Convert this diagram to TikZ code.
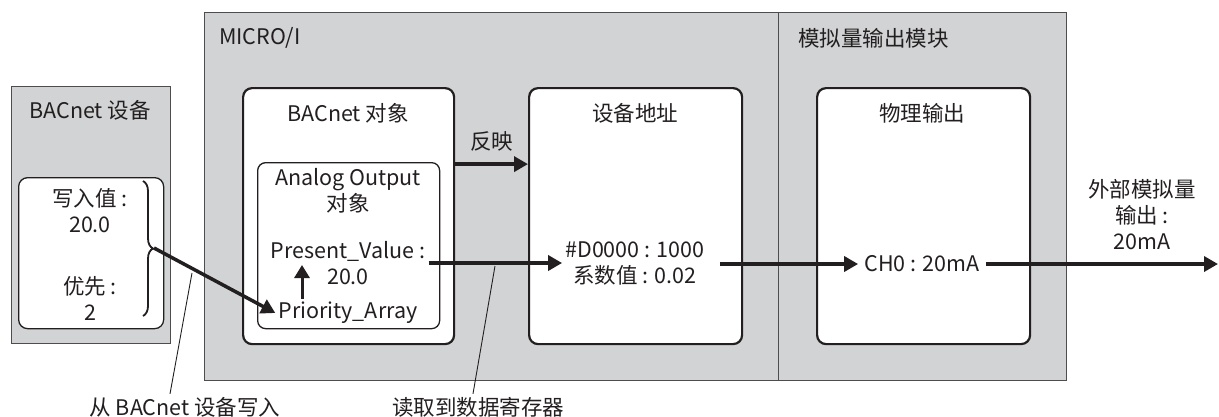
\documentclass[tikz,border=0pt]{standalone}
\usepackage{fontspec}
\setmainfont{Noto Sans CJK SC}
\usetikzlibrary{arrows.meta,decorations.pathreplacing,positioning}

\definecolor{panelgray}{HTML}{D1D3D4}
\definecolor{ink}{HTML}{231F20}

\tikzset{
  panel/.style={draw=ink!80, line width=1.2pt, fill=panelgray, anchor=north west, inner sep=0pt},
  objbox/.style={draw=ink, line width=2.2pt, fill=white, rounded corners=9pt, anchor=north west, inner sep=0pt},
  subbox/.style={draw=ink, line width=1.3pt, fill=white, rounded corners=8pt, anchor=north west, inner sep=0pt},
  lbl/.style={text=ink, font=\fontsize{21.5}{26}\selectfont, align=center, inner sep=3pt},
  flow/.style={draw=ink, line width=3.5pt, -{Triangle[length=14pt,width=15pt]}},
  lead/.style={draw=ink, line width=0.9pt},
}

\begin{document}
\begin{tikzpicture}[x=1pt,y=-1pt]
  \useasboundingbox (0,0) rectangle (1219,416);

  % panels
  \node[panel, minimum width=159pt, minimum height=257pt] (devpanel) at (11,86) {};
  \node[panel, minimum width=574pt, minimum height=368pt] (micropanel) at (204,12) {};
  \node[panel, minimum width=288pt, minimum height=368pt] (modpanel) at (778,12) {};

  \node[lbl] (devtitle) at (90,110) {BACnet 设备};
  \node[lbl, anchor=west] (microtitle) at (216,38) {MICRO/I};
  \node[lbl, anchor=west] (modtitle) at (795,38) {模拟量输出模块};

  % BACnet device
  \node[objbox, minimum width=145pt, minimum height=151pt, line width=1.3pt] (devbox) at (18,177) {};
  \node[lbl] (wval) at (90,210.5) {写入值 :\\20.0};
  \node[lbl] (wprio) at (90,298) {优先 :\\2};
  \draw[ink, line width=1.8pt, decorate, decoration={brace, amplitude=10pt}] (143,181) -- (143,316);
  \coordinate (bt) at (154,248);

  % MICRO/I
  \node[objbox, minimum width=211pt, minimum height=256pt] (bobj) at (242,87) {};
  \node[lbl] (bobjtitle) at (348,113) {BACnet 对象};
  \node[subbox, minimum width=182pt, minimum height=166pt] (aobj) at (257,162) {};
  \node[lbl] (aotitle) at (348,190.5) {Analog Output\\对象};
  \node[lbl] (pv) at (348,263) {Present\_Value :\\20.0};
  \node[lbl] (prio) at (348,313) {Priority\_Array};

  \node[objbox, minimum width=213pt, minimum height=256pt] (addrbox) at (528,87) {};
  \node[lbl] (addrtitle) at (635,113) {设备地址};
  \node[lbl] (addr) at (635,264) {\#D0000 : 1000\\系数值 : 0.02};

  % module
  \node[objbox, minimum width=213pt, minimum height=256pt] (physbox) at (816,87) {};
  \node[lbl] (phystitle) at (922,113) {物理输出};
  \node[lbl, inner sep=6pt] (ch) at (922,264) {CH0 : 20mA};

  \node[lbl] (ext) at (1142,215) {外部模拟量\\输出 :\\20mA};
  \coordinate (extout) at (1218,264);

  % flows
  \draw[flow] ([yshift=52pt]bobj.east) -- node[lbl, midway, above=8pt] (mirror) {反映}
    ([yshift=52pt]bobj.east -| addrbox.west);
  \draw[flow] (bt) -- (prio.west);
  \draw[flow, line width=3pt, -{Triangle[length=13pt,width=15pt]}]
    ([xshift=-46pt]prio.north) -- ([xshift=-46pt,yshift=-2pt]prio.north |- pv.center);
  \draw[flow] (pv.east) -- (pv.east -| addr.west);
  \draw[flow, shorten <=12pt] (addr.east) -- (addr.east -| ch.west);
  \draw[flow] (ch.east) -- (extout);

  % notes
  \node[lbl] (note1) at (185,407) {从 BACnet 设备写入};
  \node[lbl] (note2) at (478,407) {读取到数据寄存器};
  \coordinate (c1) at (192,273);
  \coordinate (c2) at (495,266);
  \draw[lead] (c1) -- ([xshift=-15pt]note1.north);
  \draw[lead] (c2) -- ([xshift=-5pt]note2.north);
\end{tikzpicture}
\end{document}
